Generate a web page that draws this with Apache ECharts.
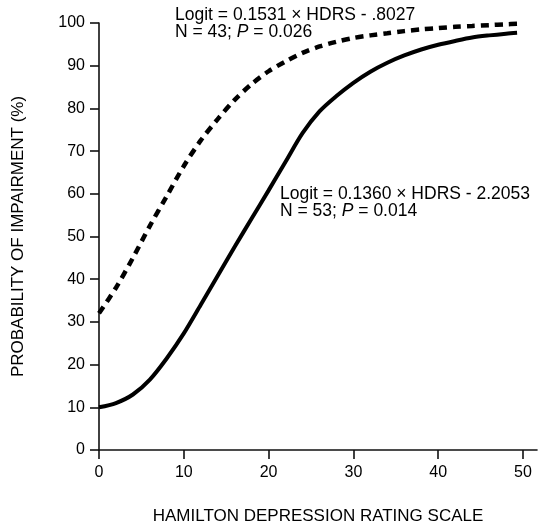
<!DOCTYPE html>
<html>
<head>
<meta charset="utf-8">
<script src="https://cdn.jsdelivr.net/npm/echarts@6/dist/echarts.min.js"></script>
<style>html,body{margin:0;padding:0;background:#fff;}#c{width:546px;height:524px;}</style>
</head>
<body>
<div id="c"></div>
<script>
// HDRS scores at which the curves are sampled
var hdrs = [0,2,4,6,8,10,12,14,16,18,20,22,24,26,28,30,32,34,36,38,40,42,44,46,48,49.3];
// dashed curve: Logit = 0.1531 x HDRS - .8027 (N = 43)
var dashedProb = [32,38,45,52.5,59.5,66.5,72.5,77.5,82,85.7,88.7,91,93,94.5,95.6,96.5,97.1,97.6,98.1,98.5,98.8,99.1,99.3,99.5,99.7,99.8];
// solid curve: Logit = 0.1360 x HDRS - 2.2053 (N = 53)
var solidProb = [10,11,13,16.5,21.5,27.3,34,40.8,47.6,54.2,60.8,67.5,74.2,79.3,82.9,86,88.6,90.7,92.4,93.8,94.9,95.8,96.6,97.1,97.5,97.7];
var xTicks = [0,10,20,30,40,50];
var yTicks = [0,10,20,30,40,50,60,70,80,90,100];
var xTitle = 'HAMILTON DEPRESSION RATING SCALE';
var yTitle = 'PROBABILITY OF IMPAIRMENT (%)';
var note1 = ['Logit = 0.1531 \u00d7 HDRS - .8027', 'N = 43; {i|P} = 0.026'];
var note2 = ['Logit = 0.1360 \u00d7 HDRS - 2.2053', 'N = 53; {i|P} = 0.014'];

function pairs(xs, ys){ return xs.map(function(x,i){ return [x, ys[i]]; }); }

var FONT = '"Liberation Sans", Arial, Helvetica, sans-serif';
var chart = echarts.init(document.getElementById('c'), null, {renderer:'canvas'});

function noteText(lines, x, y){
  var els = [];
  lines.forEach(function(t, k){
    els.push({
      type:'text', left:x, top:y + k*17.5, silent:true,
      style:{
        text:t, fill:'#000', font:'17.5px ' + FONT,
        rich:{ i:{ fontStyle:'italic', fontSize:17.5, fontFamily:FONT, fill:'#000' } }
      }
    });
  });
  return els;
}

chart.setOption({
  backgroundColor:'#fff',
  animation:false,
  grid:{ left:99, right:9, top:23, bottom:74, containLabel:false, outerBoundsMode:'none' },
  xAxis:{
    type:'value', min:0, max:51.65,
    name:xTitle, nameLocation:'middle', nameGap:58,
    nameTextStyle:{ fontFamily:FONT, fontSize:17, color:'#000' },
    axisLine:{ show:true, onZero:false, lineStyle:{ color:'#111', width:1.6 } },
    axisTick:{ show:true, length:9, customValues:xTicks, lineStyle:{ color:'#111', width:1.6 } },
    axisLabel:{ customValues:xTicks, margin:15, fontFamily:FONT, fontSize:16, color:'#000' },
    splitLine:{ show:false }
  },
  yAxis:{
    type:'value', min:0, max:100, interval:10,
    name:yTitle, nameLocation:'middle', nameGap:72, nameRotate:90,
    nameTextStyle:{ fontFamily:FONT, fontSize:17, color:'#000' },
    axisLine:{ show:true, onZero:false, lineStyle:{ color:'#111', width:1.6 } },
    axisTick:{ show:true, length:9, lineStyle:{ color:'#111', width:1.6 } },
    axisLabel:{ margin:14, fontFamily:FONT, fontSize:16, color:'#000',
      formatter:function(v){ return yTicks.indexOf(v) >= 0 ? String(v) : ''; } },
    splitLine:{ show:false }
  },
  series:[
    { type:'line', data:pairs(hdrs, dashedProb), smooth:0.3, showSymbol:false, silent:true,
      lineStyle:{ color:'#000', width:4.5, type:[8,6] } },
    { type:'line', data:pairs(hdrs, solidProb), smooth:0.3, showSymbol:false, silent:true,
      lineStyle:{ color:'#000', width:4 } }
  ],
  graphic: noteText(note1, 175, 6).concat(noteText(note2, 280, 185))
});
</script>
</body>
</html>
